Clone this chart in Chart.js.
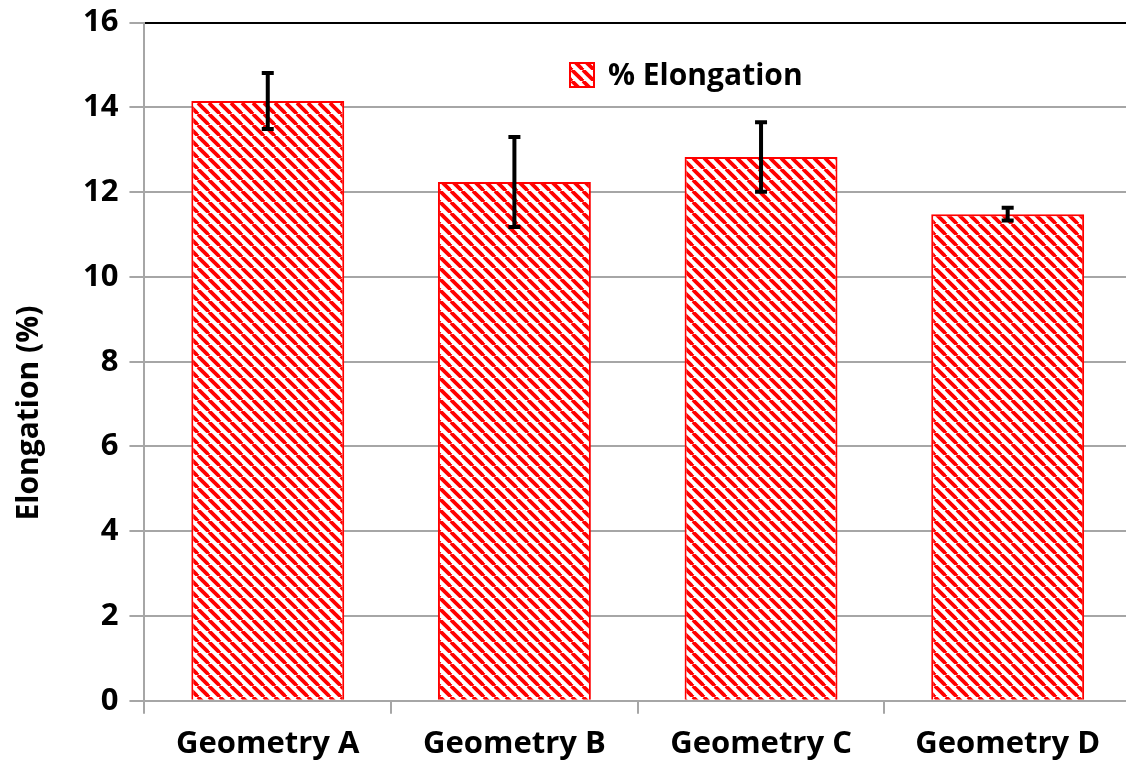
<!DOCTYPE html>
<html>
<head>
<meta charset="utf-8">
<script src="https://cdn.jsdelivr.net/npm/chart.js@4.4.1/dist/chart.umd.min.js"></script>
<style>
  body { margin: 0; overflow: hidden; background: #fff; }
  /* canvas a little bigger than the window so the plot reaches the edges like the original */
  .wrap { width: 1131px; height: 782px; margin-top: -7px; }
</style>
</head>
<body>
<div class="wrap"><canvas id="chart"></canvas></div>
<script>
// values
const categories = ['Geometry A', 'Geometry B', 'Geometry C', 'Geometry D']
const elongation = [14.15, 12.24, 12.83, 11.48]
const elongationErr = [0.66, 1.06, 0.82, 0.15]
const yTicks = [0, 2, 4, 6, 8, 10, 12, 14, 16]
const seriesLabel = '% Elongation'
const yTitle = 'Elongation (%)'

const RED = '#ff0000'
const GRID = '#a6a6a6'
const FONT = 'Open Sans'

// red "\" hatch like the office pattern fill
function makeHatch(c) {
    const s = 11
    const tile = document.createElement('canvas')
    tile.width = s
    tile.height = s
    const g = tile.getContext('2d')
    g.fillStyle = '#fff'
    g.fillRect(0, 0, s, s)
    g.strokeStyle = RED
    g.lineWidth = 3.8
    for (const off of [-s, 0, s]) {
        g.beginPath()
        g.moveTo(off, 0)
        g.lineTo(off + s, s)
        g.stroke()
    }
    return c.createPattern(tile, 'repeat')
}

const ctx = document.getElementById('chart').getContext('2d')
const hatch = makeHatch(ctx)

// error bars drawn on top of the bars, positioned with the chart scales
const errorBars = {
    id: 'errorBars',
    afterDatasetsDraw(chart) {
        const y = chart.scales.y
        const meta = chart.getDatasetMeta(0)
        const c = chart.ctx
        c.save()
        c.strokeStyle = '#000'
        c.lineWidth = 4
        meta.data.forEach((bar, i) => {
            const top = y.getPixelForValue(elongation[i] + elongationErr[i])
            const bot = y.getPixelForValue(elongation[i] - elongationErr[i])
            c.beginPath()
            c.moveTo(bar.x, top); c.lineTo(bar.x, bot)
            c.moveTo(bar.x - 6, top); c.lineTo(bar.x + 6, top)
            c.moveTo(bar.x - 6, bot); c.lineTo(bar.x + 6, bot)
            c.stroke()
        })
        c.restore()
    }
}

// legend sits inside the plot, a bit right of centre; y title sits lower than the axis middle
const extras = {
    id: 'extras',
    afterDraw(chart) {
        const c = chart.ctx
        const x = 570, yMid = 82
        c.save()
        c.fillStyle = hatch
        c.fillRect(x, yMid - 12, 24, 24)
        c.strokeStyle = RED
        c.lineWidth = 2
        c.strokeRect(x, yMid - 12, 24, 24)
        c.fillStyle = '#000'
        c.font = `bold 30px "${FONT}"`
        c.textBaseline = 'middle'
        c.fillText(seriesLabel, x + 38, yMid + 1)

        c.translate(29, 420)
        c.rotate(-Math.PI / 2)
        c.textAlign = 'center'
        c.font = `bold 30px "${FONT}"`
        c.fillText(yTitle, 0, 0)
        c.restore()
    }
}

new Chart(ctx, {
    type: 'bar',
    data: {
        labels: categories,
        datasets: [{
            label: seriesLabel,
            data: elongation,
            backgroundColor: hatch,
            borderColor: RED,
            borderWidth: 2,
            barPercentage: 0.62,
            categoryPercentage: 1
        }]
    },
    options: {
        responsive: true,
        maintainAspectRatio: false,
        animation: false,
        layout: { padding: { top: 4, right: 0, bottom: 0, left: 72 } },
        plugins: {
            legend: { display: false },
            tooltip: { enabled: false }
        },
        scales: {
            x: {
                grid: { offset: true, drawOnChartArea: false, color: GRID, lineWidth: 2, tickLength: 13 },
                border: { color: GRID, width: 2 },
                ticks: { color: '#000', font: { family: FONT, size: 31, weight: 'bold' }, padding: 12 }
            },
            y: {
                min: 0,
                max: 16,
                afterBuildTicks: axis => { axis.ticks = yTicks.map(v => ({ value: v })) },
                grid: {
                    color: c => c.tick && c.tick.value === 16 ? '#000' : GRID,
                    tickColor: GRID,
                    lineWidth: 2,
                    tickLength: 15
                },
                border: { color: GRID, width: 2 },
                ticks: { color: '#000', font: { family: FONT, size: 31, weight: 'bold' }, padding: 11 }
            }
        }
    },
    plugins: [errorBars, extras]
})
</script>
</body>
</html>
